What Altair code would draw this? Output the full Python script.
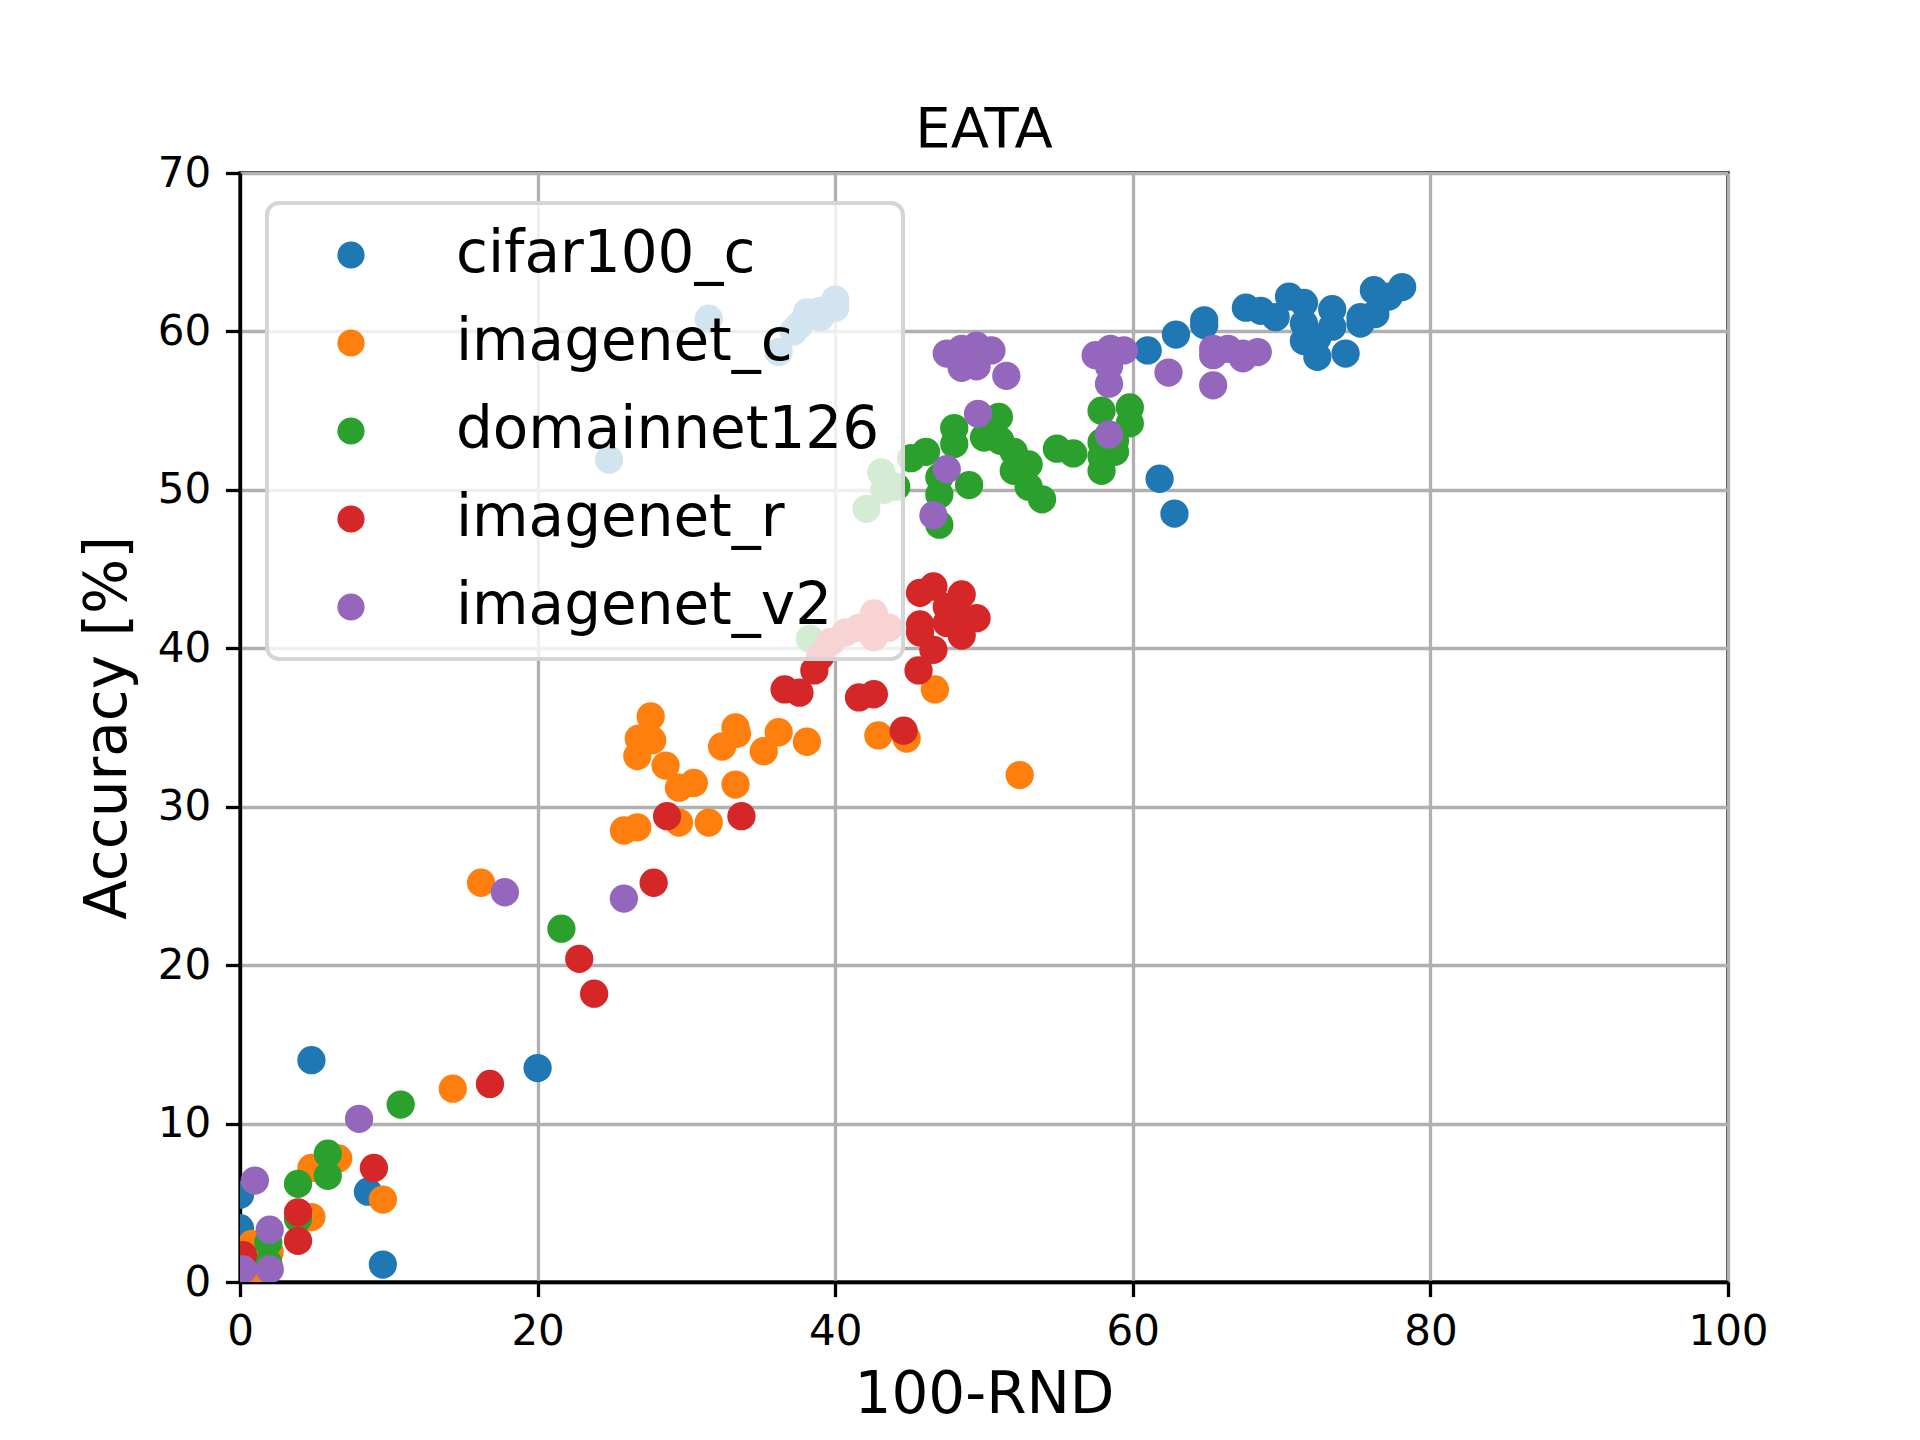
import altair as alt
import pandas as pd

series = ["cifar100_c", "imagenet_c", "domainnet126", "imagenet_r", "imagenet_v2"]
colors = ["#1f77b4", "#ff7f0e", "#2ca02c", "#d62728", "#9467bd"]

cifar_x = [0.0, 0.0, 4.8, 20.0, 8.6, 9.6, 24.8, 31.5, 36.2, 37.2, 37.6, 38.1, 39.0, 39.0,
           40.0, 40.0, 61.0, 61.8, 62.8, 62.9, 64.8, 64.8, 67.6, 68.6, 69.6, 70.5, 71.5,
           71.5, 71.5, 72.4, 72.4, 73.4, 73.4, 74.3, 75.3, 75.3, 76.2, 76.3, 77.2, 78.1]
cifar_y = [5.5, 3.4, 14.0, 13.5, 5.7, 1.1, 51.9, 60.8, 58.7, 60.0, 60.4, 61.2, 60.9, 61.3,
           62.0, 61.5, 58.8, 50.7, 48.5, 59.8, 60.7, 60.4, 61.5, 61.3, 60.9, 62.2, 61.8,
           60.5, 59.4, 58.4, 59.6, 61.4, 60.3, 58.6, 60.9, 60.5, 62.6, 61.1, 62.2, 62.8]

inc_x = [0.8, 1.0, 2.0, 4.8, 4.8, 6.6, 9.6, 14.3, 16.2, 25.8, 26.7, 26.7, 26.8, 27.7, 27.6,
         28.6, 29.5, 30.5, 29.5, 31.5, 32.4, 33.3, 33.4, 33.3, 35.2, 36.2, 38.1, 42.9, 44.8,
         46.7, 52.4]
inc_y = [2.4, 0.4, 1.9, 4.1, 7.2, 7.8, 5.2, 12.2, 25.2, 28.5, 28.7, 33.2, 34.3, 34.2, 35.7,
         32.6, 31.2, 31.5, 29.0, 29.0, 33.8, 35.0, 34.6, 31.4, 33.5, 34.7, 34.1, 34.5, 34.3,
         37.4, 32.0]

dom_x = [1.9, 1.9, 3.9, 3.9, 5.9, 5.9, 10.8, 21.6, 38.3, 42.1, 43.1, 43.3, 44.1, 45.1, 46.1,
         47.0, 47.0, 47.0, 48.0, 48.0, 49.0, 50.0, 51.0, 51.1, 52.0, 52.0, 53.0, 53.0, 53.9,
         54.9, 56.0, 57.9, 57.9, 57.9, 57.9, 58.8, 58.8, 59.8, 59.8]
dom_y = [1.2, 2.5, 4.0, 6.2, 6.7, 8.1, 11.2, 22.3, 40.6, 48.8, 51.1, 50.0, 50.2, 52.0, 52.4,
         50.8, 49.7, 47.8, 53.9, 52.9, 50.3, 53.3, 54.6, 53.1, 52.4, 51.2, 51.6, 50.2, 49.4,
         52.6, 52.3, 55.0, 53.0, 52.1, 51.2, 52.4, 53.1, 55.2, 54.2]

inr_x = [0.2, 3.9, 3.9, 9.0, 16.8, 22.8, 23.8, 27.8, 28.7, 33.7, 36.6, 37.6, 38.6, 39.0, 39.7,
         40.7, 41.6, 42.6, 42.6, 43.6, 41.6, 42.6, 44.6, 45.6, 46.6, 45.7, 45.7, 45.7, 46.6,
         47.5, 47.5, 48.5, 48.5, 49.5, 48.5]
inr_y = [1.7, 2.6, 4.4, 7.2, 12.5, 20.4, 18.2, 25.2, 29.4, 29.4, 37.4, 37.2, 38.6, 39.5, 40.4,
         41.0, 41.3, 42.2, 40.7, 41.3, 36.9, 37.1, 34.8, 38.6, 39.9, 41.5, 41.0, 43.5, 43.9,
         42.6, 41.6, 43.4, 41.9, 41.9, 40.8]

inv2_x = [0.2, 1.0, 2.0, 2.0, 8.0, 17.8, 25.8, 46.6, 47.5, 49.6, 47.5, 48.5, 49.5, 50.5, 48.5,
          49.5, 51.5, 57.5, 58.5, 59.4, 58.4, 58.4, 58.4, 62.4, 65.4, 65.4, 66.4, 67.4, 67.4,
          68.4, 65.4]
inv2_y = [0.8, 6.4, 3.3, 0.8, 10.3, 24.6, 24.2, 48.4, 51.3, 54.8, 58.6, 58.9, 59.1, 58.8, 57.7,
          57.8, 57.2, 58.5, 58.9, 58.8, 57.8, 56.7, 53.5, 57.4, 58.9, 58.5, 58.9, 58.6, 58.3,
          58.7, 56.6]

x_ticks = [0, 20, 40, 60, 80, 100]
y_ticks = [0, 10, 20, 30, 40, 50, 60, 70]

rows = []
for name, xs, ys in zip(series,
                        [cifar_x, inc_x, dom_x, inr_x, inv2_x],
                        [cifar_y, inc_y, dom_y, inr_y, inv2_y]):
    for xv, yv in zip(xs, ys):
        rows.append({"dataset": name, "rnd": xv, "acc": yv})
df = pd.DataFrame(rows)

FONT = "DejaVu Sans"

chart = alt.Chart(df).mark_circle(size=800, opacity=1, clip=True, strokeWidth=0).encode(
    x=alt.X("rnd:Q", title="100-RND",
            scale=alt.Scale(domain=[0, 100], nice=False, zero=False),
            axis=alt.Axis(values=x_ticks, labelFlush=False, titlePadding=14)),
    y=alt.Y("acc:Q", title="Accuracy [%]",
            scale=alt.Scale(domain=[0, 70], nice=False, zero=False),
            axis=alt.Axis(values=y_ticks, labelFlush=False, titlePadding=20)),
    color=alt.Color("dataset:N", title=None,
                    scale=alt.Scale(domain=series, range=colors),
                    legend=alt.Legend(orient="none", legendX=27, legendY=30, zindex=1)),
).properties(
    width=1488,
    height=1109,
    autosize=alt.AutoSizeParams(type="none"),
    padding={"left": 232, "top": 165, "right": 184, "bottom": 150},
    title=alt.TitleParams("EATA", fontSize=56, font=FONT, fontWeight="normal",
                          anchor="middle", offset=25, dy=32, color="black"),
).configure(font=FONT).configure_axis(
    grid=True, gridColor="#b0b0b0", gridWidth=3.3,
    domainColor="black", domainWidth=3.3,
    tickColor="black", tickWidth=3.3, tickSize=14.6,
    labelFontSize=42, labelFont=FONT, labelColor="black", labelPadding=14.6,
    titleFontSize=58, titleFont=FONT, titleFontWeight="normal", titleColor="black",
).configure_view(stroke="black", strokeWidth=3.3).configure_legend(
    fillColor="rgba(255,255,255,0.8)", strokeColor="#d5d5d5", strokeWidth=4,
    cornerRadius=12, padding=23, rowPadding=30, symbolOffset=32, labelOffset=76,
    labelFontSize=58, labelFont=FONT, labelColor="black", labelLimit=1000,
    symbolType="circle", symbolSize=740, symbolStrokeWidth=0, symbolOpacity=1,
)

chart.save("out.html", embed_options={"renderer": "svg", "actions": False})
